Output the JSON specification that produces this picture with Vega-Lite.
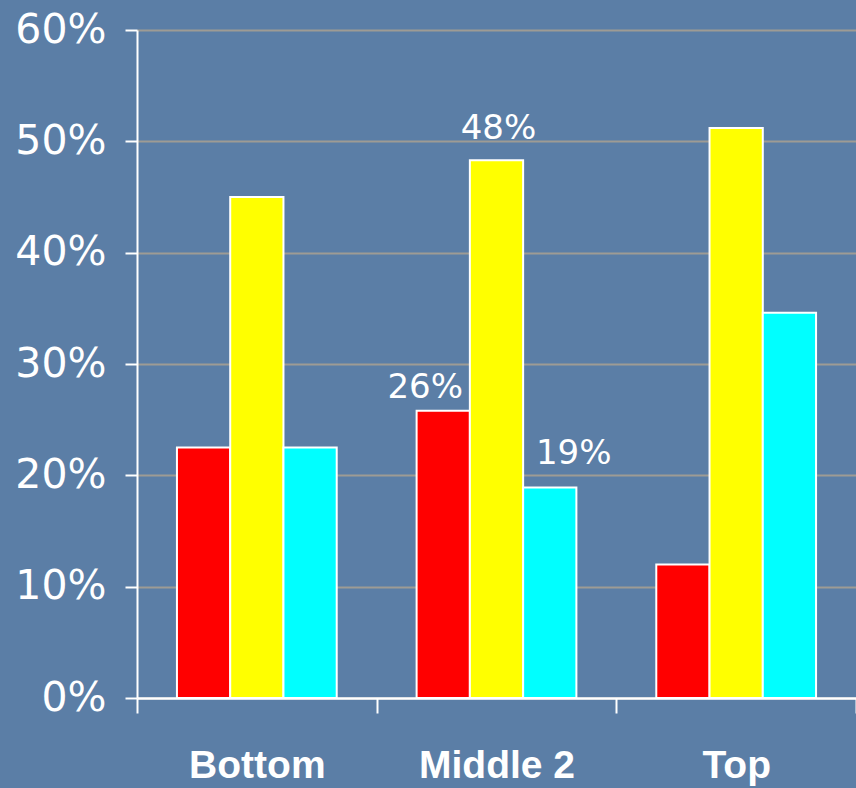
{
  "$schema": "https://vega.github.io/schema/vega-lite/v6.json",
  "autosize": "none",
  "padding": {"left": 137, "top": 30, "right": 0, "bottom": 90},
  "width": 719,
  "height": 668,
  "background": "#5b7ea6",
  "config": {"view": {"stroke": null}},
  "data": {
    "values": [
      {"group": "Bottom", "series": "Series 1", "value": 0.225},
      {"group": "Bottom", "series": "Series 2", "value": 0.450},
      {"group": "Bottom", "series": "Series 3", "value": 0.225},
      {"group": "Middle 2", "series": "Series 1", "value": 0.258},
      {"group": "Middle 2", "series": "Series 2", "value": 0.483},
      {"group": "Middle 2", "series": "Series 3", "value": 0.189},
      {"group": "Top", "series": "Series 1", "value": 0.120},
      {"group": "Top", "series": "Series 2", "value": 0.512},
      {"group": "Top", "series": "Series 3", "value": 0.346}
    ]
  },
  "encoding": {
    "x": {
      "field": "group", "type": "nominal", "sort": ["Bottom", "Middle 2", "Top"],
      "scale": {"paddingInner": 0, "paddingOuter": 0},
      "axis": {
        "title": null, "labelAngle": 0, "tickBand": "extent",
        "labelFont": "Liberation Sans", "labelFontWeight": "bold", "labelFontSize": 39, "labelColor": "#ffffff",
        "labelPadding": 33, "tickSize": 15, "tickColor": "#ffffff", "tickWidth": 2,
        "domainColor": "#ffffff", "domainWidth": 2.5
      }
    },
    "xOffset": {"field": "series", "type": "nominal", "scale": {"paddingInner": 0, "paddingOuter": 0.75}},
    "y": {
      "field": "value", "type": "quantitative",
      "scale": {"domain": [0, 0.6], "nice": false},
      "axis": {
        "title": null, "format": ".0%", "values": [0, 0.1, 0.2, 0.3, 0.4, 0.5, 0.6],
        "labelFont": "DejaVu Sans", "labelFontSize": 41, "labelColor": "#ffffff", "labelPadding": 19,
        "tickSize": 12, "tickColor": "#ffffff", "tickWidth": 2,
        "domainColor": "#ffffff", "domainWidth": 2,
        "grid": true, "gridColor": "#9e9b94", "gridWidth": 2
      }
    }
  },
  "layer": [
    {
      "mark": {"type": "bar", "stroke": "#ffffff", "strokeWidth": 2},
      "encoding": {
        "color": {
          "field": "series", "type": "nominal",
          "scale": {"domain": ["Series 1", "Series 2", "Series 3"], "range": ["#ff0000", "#ffff00", "#00ffff"]},
          "legend": null
        }
      }
    },
    {
      "transform": [{"filter": "datum.group === 'Middle 2' && datum.series === 'Series 1'"}],
      "mark": {"type": "text", "font": "DejaVu Sans", "fontSize": 34, "color": "#ffffff", "baseline": "alphabetic", "dx": -18, "dy": -13},
      "encoding": {"text": {"field": "value", "type": "quantitative", "format": ".0%"}}
    },
    {
      "transform": [{"filter": "datum.group === 'Middle 2' && datum.series === 'Series 2'"}],
      "mark": {"type": "text", "font": "DejaVu Sans", "fontSize": 34, "color": "#ffffff", "baseline": "alphabetic", "dx": 2, "dy": -21},
      "encoding": {"text": {"field": "value", "type": "quantitative", "format": ".0%"}}
    },
    {
      "transform": [{"filter": "datum.group === 'Middle 2' && datum.series === 'Series 3'"}],
      "mark": {"type": "text", "font": "DejaVu Sans", "fontSize": 34, "color": "#ffffff", "baseline": "alphabetic", "dx": 24, "dy": -24},
      "encoding": {"text": {"field": "value", "type": "quantitative", "format": ".0%"}}
    }
  ]
}
